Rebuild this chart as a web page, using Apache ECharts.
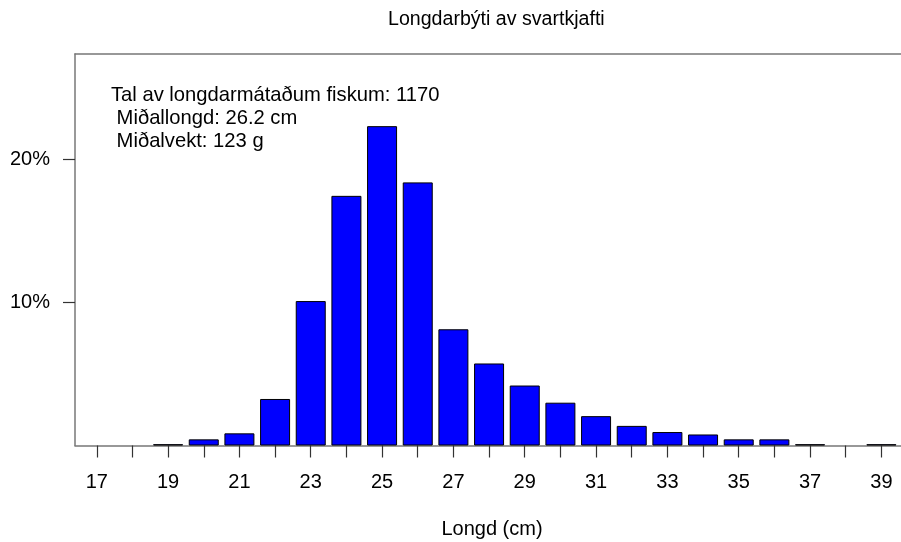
<!DOCTYPE html>
<html>
<head>
<meta charset="utf-8">
<script src="https://cdn.jsdelivr.net/npm/echarts@6/dist/echarts.min.js"></script>
<style>
  html, body { margin: 0; padding: 0; background: #fff; }
  #chart { width: 901px; height: 542px; }
</style>
</head>
<body>
<div id="chart"></div>
<script>
// lengths (cm) and share of measured fish (%)
const lengths = [17, 18, 19, 20, 21, 22, 23, 24, 25, 26, 27, 28, 29, 30, 31, 32, 33, 34, 35, 36, 37, 38, 39];
const shares = [0, 0, 0.09, 0.43, 0.85, 3.25, 10.09, 17.44, 22.31, 18.38, 8.12, 5.73, 4.19, 2.99, 2.05, 1.37, 0.94, 0.77, 0.43, 0.43, 0.09, 0, 0.09];
const xLabels = [17, 19, 21, 23, 25, 27, 29, 31, 33, 35, 37, 39];
const yLabels = [10, 20];
const infoLines = ['Tal av longdarmátaðum fiskum: 1170', ' Miðallongd: 26.2 cm', ' Miðalvekt: 123 g'];

const font = 'Liberation Sans, Arial, sans-serif';
const chart = echarts.init(document.getElementById('chart'));

// empty classes are left out so no stray outline is drawn on the axis
const barData = [];
lengths.forEach((l, i) => {
  if (shares[i] > 0) barData.push([l, shares[i]]);
});

chart.setOption({
  animation: false,
  textStyle: { fontFamily: font },
  title: {
    text: 'Longdarbýti av svartkjafti',
    left: 383,
    top: 5,
    textStyle: { fontFamily: font, fontSize: 19.6, fontWeight: 'normal', color: '#000' }
  },
  grid: { left: 75, right: 0, top: 54, bottom: 96.5, outerBoundsMode: 'none' },
  xAxis: [
    {
      type: 'value',
      min: 16.39,
      max: 39.55,
      name: 'Longd (cm)',
      nameLocation: 'middle',
      nameGap: 74,
      nameTextStyle: { fontFamily: font, fontSize: 20, color: '#000', padding: [0, 0, 0, 8] },
      axisLine: { show: true, lineStyle: { color: '#777', width: 1.5 } },
      axisTick: { show: true, length: 12, customValues: lengths, lineStyle: { color: '#333', width: 1.2 } },
      axisLabel: { customValues: xLabels, margin: 27, fontSize: 20, color: '#000', fontFamily: font },
      splitLine: { show: false }
    },
    {
      type: 'value',
      position: 'top',
      min: 16.39,
      max: 39.55,
      axisLine: { show: true, onZero: false, lineStyle: { color: '#777', width: 1.5 } },
      axisTick: { show: false },
      axisLabel: { show: false },
      splitLine: { show: false }
    }
  ],
  yAxis: {
    type: 'value',
    min: 0,
    max: 27.35,
    axisLine: { show: true, lineStyle: { color: '#777', width: 1.5 } },
    axisTick: { show: true, length: 12, customValues: yLabels, lineStyle: { color: '#333', width: 1.2 } },
    axisLabel: {
      customValues: yLabels,
      margin: 25,
      fontSize: 20,
      color: '#000',
      fontFamily: font,
      formatter: '{value}%'
    },
    splitLine: { show: false }
  },
  graphic: [
    {
      type: 'text',
      left: 111,
      top: 84,
      style: {
        text: infoLines.join('\n'),
        font: '20.2px ' + font,
        lineHeight: 23,
        fill: '#000'
      }
    }
  ],
  series: [
    {
      type: 'bar',
      xAxisIndex: 0,
      barWidth: 30,
      data: barData,
      itemStyle: { color: '#0000ff', borderColor: '#000', borderWidth: 1 }
    }
  ]
});
</script>
</body>
</html>
